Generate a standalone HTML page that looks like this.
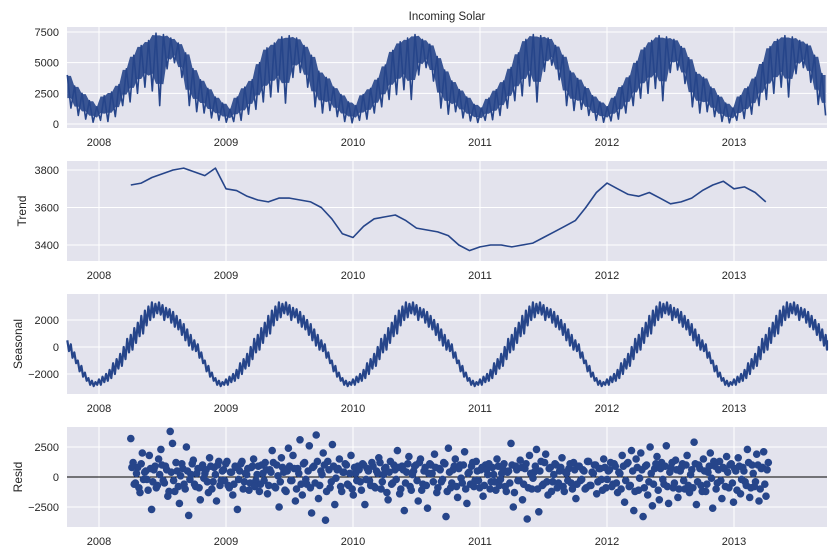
<!DOCTYPE html>
<html><head><meta charset="utf-8">
<style>
html,body{margin:0;padding:0;background:#fff;}
svg{display:block;font-family:"Liberation Sans",Arial,sans-serif;}
</style></head>
<body>
<svg id="chart" width="840" height="560" viewBox="0 0 840 560" xmlns="http://www.w3.org/2000/svg">
<text x="447" y="20" text-anchor="middle" font-size="11.5" fill="#262626">Incoming Solar</text>
</svg>
<script>
// ---- data ----
const yearTicks = [2008, 2009, 2010, 2011, 2012, 2013];
const yearLabels = ["2008", "2009", "2010", "2011", "2012", "2013"];
const obsTicks = [0, 2500, 5000, 7500];
const trendTicks = [3400, 3600, 3800];
const seasTicks = [-2000, 0, 2000];
const residTicks = [-2500, 0, 2500];
const obsStart = 2007.75, obsEnd = 2013.75;
// observed, ~10-day steps from Oct 2007 to Sep 2013
const observed = [
4000,1300,3100,700,2500,400,1900,150,1400,300,2300,200,2600,600,3200,1500,4500,1800,5600,2500,6400,3000,6800,2700,7400,1500,7300,4500,7000,5000,6600,3800,5800,1500,4500,1000,
3600,900,2900,500,2200,300,1700,150,1200,200,2200,300,3000,800,3600,1200,5000,1800,6200,2200,6600,2600,7100,1700,7200,3800,7000,4200,6400,3000,5600,1400,4300,900,
3800,1100,3000,600,2400,200,1800,100,1500,300,2400,400,2900,900,3700,1400,4800,2000,6000,2400,6700,2800,7000,2000,7300,4000,6900,4600,6500,3500,5500,1300,4400,800,
3500,1000,2800,500,2200,250,1600,120,1300,300,2100,350,2800,700,3500,1300,4600,1900,5800,2300,6900,3100,7300,1800,7200,4300,7000,4800,6400,3600,5600,1500,4300,1100,
3700,1200,3000,700,2300,300,1800,150,1400,250,2200,400,3100,900,3900,1500,5100,2100,6200,2500,6800,2900,7200,1900,7100,4200,6900,4400,6300,3300,5400,1400,4200,900,
3800,1000,3000,600,2300,200,1700,100,1300,300,2300,450,3000,800,3800,1500,5000,2000,6300,2500,6900,3000,7200,2200,7100,4100,6800,4600,6500,3400,5600,1600,4100,700
];
// trend, monthly from Apr 2008 to Apr 2013
const trendStart = 2008.25;
const trend = [3720,3730,3760,3780,3800,3810,3790,3770,3810,
3700,3690,3660,3640,3630,3650,3650,3640,3630,3600,3540,3460,
3440,3500,3540,3550,3560,3530,3490,3480,3470,3450,3400,3370,
3390,3400,3400,3390,3400,3410,3440,3470,3500,3530,3600,3680,
3730,3700,3670,3660,3680,3650,3620,3630,3650,3690,3720,3740,
3700,3710,3680,3630];
// seasonal profile, 72 steps per year starting Oct 1
const seasonalProfile = [500,-300,200,-800,-400,-1200,-1000,-1800,-1400,-2200,-1900,-2500,-2300,-2800,-2500,-2900,-2600,-2800,-2400,-2800,-2200,-2600,-2000,-2500,-1700,-2300,-1200,-2000,-900,-1600,-500,-1400,0,-900,600,-400,900,-200,1400,300,1800,800,2300,1000,2700,1600,3000,2000,3300,2200,3200,2500,3300,2400,3100,2000,2900,2200,2800,1800,2600,1500,2300,1300,2000,900,1700,500,1300,100,900,-200];
// residuals, evenly spaced from Apr 2008 to Apr 2013
const residStart = 2008.25, residEnd = 2013.27;
const resid = [3200,1200,-500,800,-1300,2000,400,-200,1800,-2700,600,-900,1500,2300,-300,900,-1600,3800,2800,-1200,500,-2200,1100,-600,2500,-3200,200,1400,-800,700,-1900,1000,300,-400,1600,-1000,800,-2000,1300,-300,600,1100,-700,400,-1500,900,-2700,500,1300,-400,200,-1100,800,1500,-300,900,-600,300,1200,-1400,600,2200,-800,1000,-2500,1600,400,-1200,2400,-300,1800,-2000,700,3100,-1500,1200,-600,2600,-3000,900,3500,-1800,500,2000,-3600,1300,-900,2700,-2300,600,1500,-1200,400,1000,-700,1800,-1500,300,900,-400,1100,-2300,700,-300,1200,-800,500,1600,-1000,200,800,-1900,1300,-500,600,2200,-1400,900,-2800,400,1700,-1100,500,1000,-2000,1500,-600,800,-2600,1100,300,1900,-1300,700,-400,1200,-3300,2400,-900,600,1500,-1700,1000,-500,2100,-2200,400,900,-800,1300,-300,600,-1600,1000,200,-1000,800,-400,1500,-700,300,1100,-1200,500,2800,-2500,900,-300,1400,-1900,700,-3500,1800,-1000,400,2300,-2900,1300,-600,1900,-1500,800,-400,1100,-900,500,1600,-1200,300,700,-500,1200,-1800,900,-300,600,-1000,1300,-700,400,1000,-1400,700,-200,1500,-900,500,1200,-600,900,-1300,300,1800,-2100,1100,-800,2200,-2800,1500,-1100,2000,-3300,900,-1500,2500,-2400,700,1700,-1900,1200,-600,2600,-2200,800,-900,1400,-1700,500,1100,-1000,1800,-1300,600,2900,-2300,1000,-700,1500,-1200,400,2000,-2600,900,-500,1300,-1800,700,1700,-900,1100,-2100,500,1600,-1400,800,-400,2300,-1700,1000,-800,1900,-2000,700,2100,-1600,1200];
// second batch of residuals (interleaved days), same span
const residB = [800,-600,300,-900,1100,-200,500,-1100,700,-400,900,-700,200,1000,-500,600,-1200,400,-300,1200,-800,100,700,-1000,500,-200,1100,-600,300,-900,800,-100,600,-1300,900,-400,200,1000,-700,500,-300,1300,-900,400,-600,800,-200,1100,-1000,300,700,-500,900,-800,200,-1200,1000,-300,600,-700,400,1200,-900,100,-400,800,-1100,500,900,-300,700,-1000,300,-600,1100,-200,500,-900,800,-500,1300,-700,200,1000,-1200,600,-400,900,-100,700,-800,400,1100,-600,300,-1000,800,-300,600,-1100,1000,-200,500,-700,900,-900,300,1200,-400,700,-1300,400,-600,1000,-200,800,-1000,600,-500,1100,-800,200,900,-300,1200,-1100,500,-700,300,1000,-400,800,-900,600,-200,1100,-1200,400,-500,900,-800,700,-100,1000,-1000,300,-600,1200,-300,500,-900,800,-700,600,1100,-400,200,-1100,900,-200,700,-800,400,-500,1000,-1300,600,-300,800,-600,1100,-900,300,-100,900,-1000,500,-700,1200,-400,700,-1200,200,1000,-500,800,-800,400,-300,1100,-1000,600,-600,900,-200,500,-900,1300,-700,300,1000,-400,700,-1100,800,-200,600,-800,1100,-500,400,-1000,900,-300,1200,-700,500,-1200,800,-100,600,-900,1000,-400,300,-600,1100,-1100,700,-200,900,-800,400,1200,-500,600,-1000,800,-300,1000,-700,200,-900,1100,-400,700,-1200,500,-600,900,-100,1300,-1000,600,-300,800,-800,400,1000,-500,700,-1100,900,-200,500,-700,1200,-900,300,-400,1000,-1000,800,-600,600];

// ---- layout ----
const svg = document.getElementById('chart');
const NS = 'http://www.w3.org/2000/svg';
const X0 = 67, X1 = 827;
const xOf = t => 99 + (t - 2008) * 127;
const panels = [
  {name:'observed', top:27, bottom:128, v0:0, p0:124, v1:7500, p1:32, ticks:obsTicks, label:null, lx:0},
  {name:'trend', top:161, bottom:261, v0:3400, p0:245, v1:3800, p1:170, ticks:trendTicks, label:'Trend', lx:26},
  {name:'seasonal', top:294, bottom:394, v0:-2000, p0:374, v1:2000, p1:320, ticks:seasTicks, label:'Seasonal', lx:22},
  {name:'resid', top:427, bottom:527, v0:-2500, p0:507, v1:2500, p1:447, ticks:residTicks, label:'Resid', lx:22}
];
function mk(tag, attrs, parent){
  const e = document.createElementNS(NS, tag);
  for (const k in attrs) e.setAttribute(k, attrs[k]);
  (parent || svg).appendChild(e);
  return e;
}
panels.forEach(p => {
  p.y = v => p.p0 + (v - p.v0) * (p.p1 - p.p0) / (p.v1 - p.v0);
  const g = mk('g', {});
  
  
  const bg = mk('rect', {x:X0, y:p.top, width:X1 - X0, height:p.bottom - p.top, fill:'#e3e3ed'}, g);
  
  
  yearTicks.forEach((yr, i) => {
    const x = xOf(yr);
    const gl = mk('line', {x1:x, x2:x, y1:p.top, y2:p.bottom, stroke:'#fff', 'stroke-width':1}, g);
    
    
    const tl = mk('text', {x:x, y:p.bottom + 18, 'text-anchor':'middle', 'font-size':11, fill:'#262626'}, g);
    tl.textContent = yearLabels[i];
    
    
  });
  p.ticks.forEach(v => {
    const y = p.y(v);
    const gl = mk('line', {x1:X0, x2:X1, y1:y, y2:y, stroke:'#fff', 'stroke-width':1}, g);
    
    
    const tl = mk('text', {x:X0 - 8, y:y + 4, 'text-anchor':'end', 'font-size':11, fill:'#262626'}, g);
    tl.textContent = v < 0 ? '\u2212' + Math.abs(v) : String(v);
    
    
  });
  if (p.label) {
    const cy = (p.top + p.bottom) / 2;
    const yl = mk('text', {x:p.lx, y:cy, 'text-anchor':'middle', 'font-size':12, fill:'#262626', transform:'rotate(-90 ' + p.lx + ' ' + cy + ')'}, g);
    yl.textContent = p.label;
    
    
  }
  p.g = g;
});
const COLOR = '#26458a';
function linePath(p, t0, step, arr){
  let d = '';
  arr.forEach((v, i) => {
    const x = Math.min(X1, Math.max(X0, xOf(t0 + i * step)));
    d += (i ? 'L' : 'M') + x.toFixed(1) + ' ' + p.y(v).toFixed(1);
  });
  return d;
}
// observed: filled band between local max/min of neighbouring samples, plus the zigzag line
const pObs = panels[0];
const obsStep = (obsEnd - obsStart) / observed.length;
let up = '', dn = '';
observed.forEach((v, i) => {
  const a = observed[Math.max(0, i - 1)], b = observed[Math.min(observed.length - 1, i + 1)];
  const hi = Math.max(a, v, b), lo = Math.min(a, v, b);
  const x = Math.min(X1, xOf(obsStart + i * obsStep)).toFixed(1);
  up += (i ? 'L' : 'M') + x + ' ' + pObs.y(hi * 0.97 + lo * 0.03).toFixed(1);
  dn = 'L' + x + ' ' + pObs.y(lo * 0.7 + hi * 0.3).toFixed(1) + dn;
});
const band = mk('path', {d:up + dn + 'Z', fill:COLOR, 'fill-opacity':0.9}, pObs.g);


const obsLine = mk('path', {d:linePath(pObs, obsStart, obsStep, observed), fill:'none', stroke:COLOR, 'stroke-width':1.6, 'stroke-linejoin':'round'}, pObs.g);


// trend
const pTr = panels[1];
const trLine = mk('path', {d:linePath(pTr, trendStart, 1/12, trend), fill:'none', stroke:COLOR, 'stroke-width':1.6, 'stroke-linejoin':'round'}, pTr.g);


// seasonal (periodic profile repeated each year)
const pSe = panels[2];
const seasonal = [];
for (let yr = 0; yr < 6; yr++) seasonalProfile.forEach(v => seasonal.push(v));
seasonal.push(seasonalProfile[0]);
const seLine = mk('path', {d:linePath(pSe, 2007.75, 1/72, seasonal), fill:'none', stroke:COLOR, 'stroke-width':2.2, 'stroke-linejoin':'round'}, pSe.g);


// resid
const pRe = panels[3];
const zl = mk('line', {x1:X0, x2:X1, y1:pRe.y(0), y2:pRe.y(0), stroke:'#000', 'stroke-width':1}, pRe.g);


const rStep = (residEnd - residStart) / (resid.length - 1);
resid.forEach((v, i) => {
  const c = mk('circle', {cx:xOf(residStart + i * rStep).toFixed(1), cy:pRe.y(v).toFixed(1), r:3.8, fill:COLOR}, pRe.g);
  
  
});
const rStepB = (residEnd - residStart) / (residB.length);
residB.forEach((v, i) => {
  const c = mk('circle', {cx:xOf(residStart + (i + 0.5) * rStepB).toFixed(1), cy:pRe.y(v).toFixed(1), r:3.8, fill:COLOR}, pRe.g);
  
  
});
</script>
</body></html>
